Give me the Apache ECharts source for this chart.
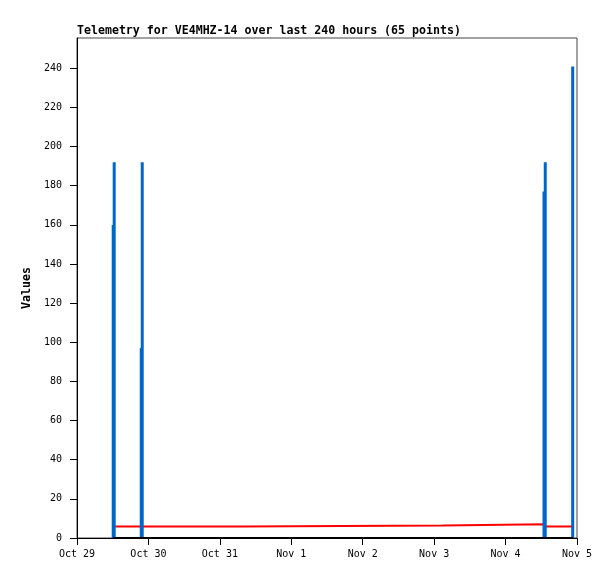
<!DOCTYPE html>
<html>
<head>
<meta charset="utf-8">
<script src="https://cdn.jsdelivr.net/npm/echarts@6/dist/echarts.min.js"></script>
<style>html,body{margin:0;padding:0;background:#fff}#c{width:615px;height:579px}</style>
</head>
<body>
<div id="c"></div>
<script>
// ---- data ----
const titleText = 'Telemetry for VE4MHZ-14 over last 240 hours (65 points)';
const yName = 'Values';
const xStart = '2024-10-29 00:00';
const xEnd = '2024-11-05 00:00';
const yTicks = [0, 20, 40, 60, 80, 100, 120, 140, 160, 180, 200, 220, 240];
const yMax = 255.5;

// blue channel (spikes) — pairs of consecutive readings a few minutes apart
const blueTimes = [
  '2024-10-29 12:10', '2024-10-29 12:30',
  '2024-10-29 21:35', '2024-10-29 21:55',
  '2024-11-04 12:55', '2024-11-04 13:20',
  '2024-11-04 22:33'
];
const blueValues = [160, 192, 97, 192, 177, 192, 241];

// red channel
const redTimes = ['2024-10-29 12:50', '2024-10-31 07:40', '2024-10-31 07:40', '2024-11-03 02:50', '2024-11-03 02:50', '2024-11-04 12:55', '2024-11-04 12:55', '2024-11-04 22:25'];
const redValues = [5.9, 5.9, 6.4, 6.4, 7.0, 7.0, 5.9, 5.9];

// black channel
const blackTimes = ['2024-10-29 12:10', '2024-11-04 22:40'];
const blackValues = [0, 0];

// ---- helpers ----
function t(s) {
  const m = s.match(/(\d+)-(\d+)-(\d+) (\d+):(\d+)/);
  return Date.UTC(+m[1], +m[2] - 1, +m[3], +m[4], +m[5]);
}
function pts(times, vals) {
  return times.map((s, i) => [t(s), vals[i]]);
}
const MONTHS = ['Jan','Feb','Mar','Apr','May','Jun','Jul','Aug','Sep','Oct','Nov','Dec'];
const FONT = 'DejaVu Sans Mono';

const chart = echarts.init(document.getElementById('c'), null, {renderer: 'canvas'});
chart.setOption({
  animation: false,
  backgroundColor: '#ffffff',
  title: {
    text: titleText, left: 77, top: 25, padding: 0,
    textStyle: {fontFamily: FONT, fontSize: 11.6, fontWeight: 'bold', color: '#000'}
  },
  grid: {left: 77, top: 38, right: 38, bottom: 41, show: true, borderColor: '#444', borderWidth: 1, backgroundColor: '#fff'},
  xAxis: {
    type: 'value', min: t(xStart), max: t(xEnd), interval: 86400000,
    axisLine: {show: true, lineStyle: {color: '#000', width: 1}},
    axisTick: {show: true, length: 7, lineStyle: {color: '#000'}},
    splitLine: {show: false},
    axisLabel: {
      margin: 11, fontFamily: FONT, fontSize: 10, color: '#000',
      formatter: v => { const d = new Date(v); return MONTHS[d.getUTCMonth()] + ' ' + d.getUTCDate(); }
    }
  },
  yAxis: {
    type: 'value', min: 0, max: yMax,
    name: yName, nameLocation: 'middle', nameRotate: 90, nameGap: 35,
    nameTextStyle: {fontFamily: FONT, fontSize: 11.6, fontWeight: 'bold', color: '#000'},
    axisLine: {show: true, lineStyle: {color: '#000', width: 1}},
    axisTick: {show: true, length: 7, lineStyle: {color: '#000'}, customValues: yTicks},
    splitLine: {show: false},
    axisLabel: {margin: 15, fontFamily: FONT, fontSize: 10, color: '#000', customValues: yTicks}
  },
  series: [
    {type: 'line', data: pts(redTimes, redValues), showSymbol: false, symbol: 'none',
     lineStyle: {color: '#ff0000', width: 2}, z: 2},
    {type: 'bar', data: pts(blueTimes, blueValues), barWidth: 3, large: false,
     itemStyle: {color: '#0066cc'}, z: 3},
    {type: 'line', data: pts(blackTimes, blackValues), showSymbol: false, symbol: 'none',
     lineStyle: {color: '#000000', width: 2}, z: 4}
  ]
});
</script>
</body>
</html>
